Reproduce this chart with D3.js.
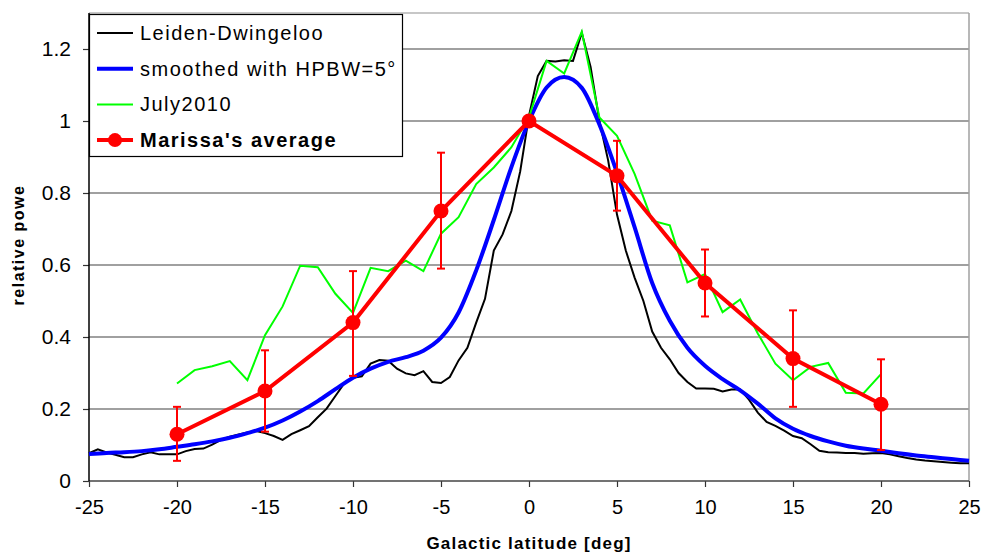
<!DOCTYPE html>
<html>
<head>
<meta charset="utf-8">
<script src="https://cdn.jsdelivr.net/npm/d3@7"></script>
<style>
	body { margin: 0; background: #fff; }
	text { font-family: 'Liberation Sans', Arial, sans-serif; fill: #000; }
</style>
</head>
<body>
<div id="chart"></div>
<script>

var xTicks = [-25, -20, -15, -10, -5, 0, 5, 10, 15, 20, 25];
var yTicks = [0, 0.2, 0.4, 0.6, 0.8, 1, 1.2];

// Leiden-Dwingeloo survey, every half degree
var ldLat = [-25, -24.5, -24, -23.5, -23, -22.5, -22, -21.5, -21, -20.5, -20, -19.5, -19, -18.5, -18, -17.5, -17,
	-16.5, -16, -15.5, -15, -14.5, -14, -13.5, -13, -12.5, -12, -11.5, -11, -10.5, -10, -9.5, -9, -8.5, -8,
	-7.5, -7, -6.5, -6, -5.5, -5, -4.5, -4, -3.5, -3, -2.5, -2, -1.5, -1, -0.5, 0, 0.5, 1, 1.5, 2, 2.5, 3,
	3.5, 4, 4.5, 5, 5.5, 6, 6.5, 7, 7.5, 8, 8.5, 9, 9.5, 10, 10.5, 11, 11.5, 12, 12.5, 13, 13.5, 14, 14.5,
	15, 15.5, 16, 16.5, 17, 17.5, 18, 18.5, 19, 19.5, 20, 20.5, 21, 21.5, 22, 22.5, 23, 23.5, 24, 24.5, 25];
var ldPow = [0.077, 0.088, 0.079, 0.073, 0.066, 0.066, 0.074, 0.080, 0.074, 0.074, 0.074, 0.083, 0.089, 0.090, 0.101, 0.114, 0.123,
	0.129, 0.135, 0.139, 0.133, 0.125, 0.114, 0.130, 0.141, 0.152, 0.177, 0.201, 0.236, 0.271, 0.287, 0.291, 0.326, 0.336, 0.334,
	0.312, 0.299, 0.294, 0.305, 0.275, 0.272, 0.289, 0.335, 0.370, 0.440, 0.506, 0.640, 0.685, 0.750, 0.860, 1.015, 1.125, 1.167, 1.165, 1.169, 1.167, 1.245,
	1.150, 1.000, 0.890, 0.740, 0.640, 0.565, 0.500, 0.415, 0.370, 0.338, 0.300, 0.275, 0.257, 0.257, 0.256, 0.249, 0.254, 0.254, 0.226, 0.190, 0.164, 0.153, 0.140,
	0.125, 0.119, 0.102, 0.084, 0.080, 0.079, 0.078, 0.078, 0.076, 0.077, 0.078, 0.074, 0.069, 0.064, 0.060, 0.057, 0.055, 0.053, 0.051, 0.049, 0.049];

// smoothed with HPBW=5 deg, every degree
var smLat = [-25, -24, -23, -22, -21, -20, -19, -18, -17, -16, -15, -14, -13, -12, -11, -10, -9, -8, -7, -6, -5, -4, -3, -2, -1,
	0, 1, 2, 3, 4, 5, 6, 7, 8, 9, 10, 11, 12, 13, 14, 15, 16, 17, 18, 19, 20, 21, 22, 23, 24, 25];
var smPow = [0.075, 0.078, 0.080, 0.083, 0.088, 0.095, 0.102, 0.110, 0.120, 0.133, 0.148, 0.168, 0.193, 0.222, 0.255, 0.287, 0.312, 0.331, 0.344, 0.362, 0.398, 0.468, 0.585, 0.725, 0.872,
	1.000, 1.093, 1.122, 1.092, 0.990, 0.856, 0.705, 0.550, 0.445, 0.370, 0.320, 0.283, 0.252, 0.215, 0.174, 0.145, 0.125, 0.110, 0.098, 0.090, 0.084, 0.077, 0.071, 0.066, 0.061, 0.056];

// July2010
var julLat = [-20, -19, -18, -17, -16, -15, -14, -13, -12, -11, -10, -9, -8, -7, -6, -5, -4, -3, -2, -1,
	0, 1, 2, 3, 4, 5, 6, 7, 8, 9, 10, 11, 12, 13, 14, 15, 16, 17, 18, 19, 20];
var julPow = [0.271, 0.308, 0.319, 0.333, 0.280, 0.405, 0.485, 0.598, 0.594, 0.520, 0.467, 0.592, 0.583, 0.612, 0.583, 0.687, 0.733, 0.825, 0.871, 0.927,
	1.010, 1.167, 1.132, 1.248, 1.010, 0.959, 0.853, 0.723, 0.710, 0.552, 0.575, 0.469, 0.504, 0.410, 0.326, 0.280, 0.317, 0.328, 0.245, 0.243, 0.297];

// Marissa's average with error bars
var avgLat = [-20, -15, -10, -5, 0, 5, 10, 15, 20];
var avgPow = [0.13, 0.25, 0.44, 0.75, 1.0, 0.848, 0.55, 0.34, 0.213];
var avgLow = [0.056, 0.137, 0.292, 0.59, 1.0, 0.751, 0.457, 0.206, 0.086];
var avgHigh = [0.206, 0.363, 0.583, 0.912, 1.0, 0.945, 0.643, 0.474, 0.338];

var legendNames = ['Leiden-Dwingeloo', 'smoothed with HPBW=5°', 'July2010', "Marissa's average"];
var legendColors = ['#000000', '#0000ff', '#00ff00', '#ff0000'];

var width = 982, height = 553;
var margin = { left: 89, right: 13, top: 13, bottom: 72 };

var svg = d3.select('#chart').append('svg')
	.attr('width', width)
	.attr('height', height)

var x = d3.scaleLinear()
	.domain([-25, 25])
	.range([margin.left, width - margin.right])

var y = d3.scaleLinear()
	.domain([0, 1.3])
	.range([height - margin.bottom, margin.top])

function zip(a, b) {
	return a.map(function (d, i) { return [d, b[i]] })
}

// grid lines
svg.append('g')
	.selectAll('line')
	.data(yTicks.filter(function (d) { return d > 0 }))
	.enter().append('line')
	.attr('x1', x(-25)).attr('x2', x(25))
	.attr('y1', function (d) { return y(d) })
	.attr('y2', function (d) { return y(d) })
	.attr('stroke', '#808080')
	.attr('stroke-width', 1.5)

// plot frame
svg.append('line')
	.attr('x1', x(-25)).attr('x2', x(25))
	.attr('y1', y(1.3)).attr('y2', y(1.3))
	.attr('stroke', '#b4b4b4').attr('stroke-width', 1.5)
svg.append('line')
	.attr('x1', x(25)).attr('x2', x(25))
	.attr('y1', y(1.3)).attr('y2', y(0))
	.attr('stroke', '#a0a0a0').attr('stroke-width', 1.5)

var xAxisG = svg.append('g')
	.attr('transform', 'translate(0,' + y(0) + ')')
	.call(d3.axisBottom(x).tickValues(xTicks).tickSize(6).tickPadding(13).tickFormat(function (d) { return String(d) }))
var yAxisG = svg.append('g')
	.attr('transform', 'translate(' + x(-25) + ',0)')
	.call(d3.axisLeft(y).tickValues(yTicks).tickSize(6).tickPadding(12).tickFormat(function (d) { return String(d) }))

xAxisG.select('.domain').remove()
yAxisG.select('.domain').remove()
xAxisG.selectAll('line').attr('stroke', '#333').attr('stroke-width', 1.2)
yAxisG.selectAll('line').attr('stroke', '#333').attr('stroke-width', 1.2)
xAxisG.selectAll('text').attr('font-size', 20).attr('font-family', "'Liberation Sans', Arial, sans-serif").attr('fill', '#000')
yAxisG.selectAll('text').attr('font-size', 21).attr('font-family', "'Liberation Sans', Arial, sans-serif").attr('fill', '#000')

svg.append('line')
	.attr('x1', x(-25)).attr('x2', x(25))
	.attr('y1', y(0)).attr('y2', y(0))
	.attr('stroke', '#444').attr('stroke-width', 1.5)
svg.append('line')
	.attr('x1', x(-25)).attr('x2', x(-25))
	.attr('y1', y(1.3)).attr('y2', y(0))
	.attr('stroke', '#000').attr('stroke-width', 1.5)

// series
var line = d3.line()
	.x(function (d) { return x(d[0]) })
	.y(function (d) { return y(d[1]) })

var smooth = d3.line()
	.curve(d3.curveMonotoneX)
	.x(function (d) { return x(d[0]) })
	.y(function (d) { return y(d[1]) })

svg.append('path')
	.attr('d', line(zip(ldLat, ldPow)))
	.attr('fill', 'none').attr('stroke', legendColors[0]).attr('stroke-width', 2)

svg.append('path')
	.attr('d', smooth(zip(smLat, smPow)))
	.attr('fill', 'none').attr('stroke', legendColors[1]).attr('stroke-width', 4)

svg.append('path')
	.attr('d', line(zip(julLat, julPow)))
	.attr('fill', 'none').attr('stroke', legendColors[2]).attr('stroke-width', 2)

svg.append('path')
	.attr('d', line(zip(avgLat, avgPow)))
	.attr('fill', 'none').attr('stroke', legendColors[3]).attr('stroke-width', 4)

var bars = svg.append('g')
	.attr('stroke', '#ff0000')
	.attr('stroke-width', 2)
	.selectAll('g')
	.data(avgLat.map(function (d, i) { return { lat: d, low: avgLow[i], high: avgHigh[i] } })
		.filter(function (d) { return d.high > d.low }))
	.enter().append('g')

bars.append('line')
	.attr('x1', function (d) { return x(d.lat) }).attr('x2', function (d) { return x(d.lat) })
	.attr('y1', function (d) { return y(d.low) }).attr('y2', function (d) { return y(d.high) })
bars.append('line')
	.attr('x1', function (d) { return x(d.lat) - 4 }).attr('x2', function (d) { return x(d.lat) + 4 })
	.attr('y1', function (d) { return y(d.low) }).attr('y2', function (d) { return y(d.low) })
bars.append('line')
	.attr('x1', function (d) { return x(d.lat) - 4 }).attr('x2', function (d) { return x(d.lat) + 4 })
	.attr('y1', function (d) { return y(d.high) }).attr('y2', function (d) { return y(d.high) })

svg.append('g')
	.selectAll('circle')
	.data(zip(avgLat, avgPow))
	.enter().append('circle')
	.attr('cx', function (d) { return x(d[0]) })
	.attr('cy', function (d) { return y(d[1]) })
	.attr('r', 7.5)
	.attr('fill', '#ff0000')

// legend
var legend = svg.append('g')
legend.append('rect')
	.attr('x', 89.5).attr('y', 14.5)
	.attr('width', 313).attr('height', 142)
	.attr('fill', '#fff').attr('stroke', '#000').attr('stroke-width', 1.2)

var rows = legend.selectAll('g.row')
	.data(legendNames)
	.enter().append('g')
	.attr('class', 'row')
	.attr('transform', function (d, i) { return 'translate(97,' + (33 + i * 35.7) + ')' })

rows.append('line')
	.attr('x1', 0).attr('x2', 36)
	.attr('stroke', function (d, i) { return legendColors[i] })
	.attr('stroke-width', function (d, i) { return (i == 1 || i == 3) ? 4 : 2 })
rows.filter(function (d, i) { return i == 3 })
	.append('circle')
	.attr('cx', 18).attr('r', 7)
	.attr('fill', '#ff0000')
rows.append('text')
	.attr('x', 43)
	.attr('dy', '0.35em')
	.attr('font-size', 20)
	.attr('letter-spacing', 1.5)
	.attr('font-weight', function (d, i) { return i == 3 ? 'bold' : 'normal' })
	.text(function (d) { return d })

// axis titles
svg.append('text')
	.attr('x', x(0)).attr('y', 549)
	.attr('text-anchor', 'middle')
	.attr('font-size', 17)
	.attr('font-weight', 'bold')
	.attr('letter-spacing', 1.2)
	.text('Galactic latitude [deg]')

svg.append('text')
	.attr('transform', 'translate(24,245) rotate(-90)')
	.attr('text-anchor', 'middle')
	.attr('font-size', 16)
	.attr('font-weight', 'bold')
	.attr('letter-spacing', 1.5)
	.text('relative powe')

</script>
</body>
</html>
